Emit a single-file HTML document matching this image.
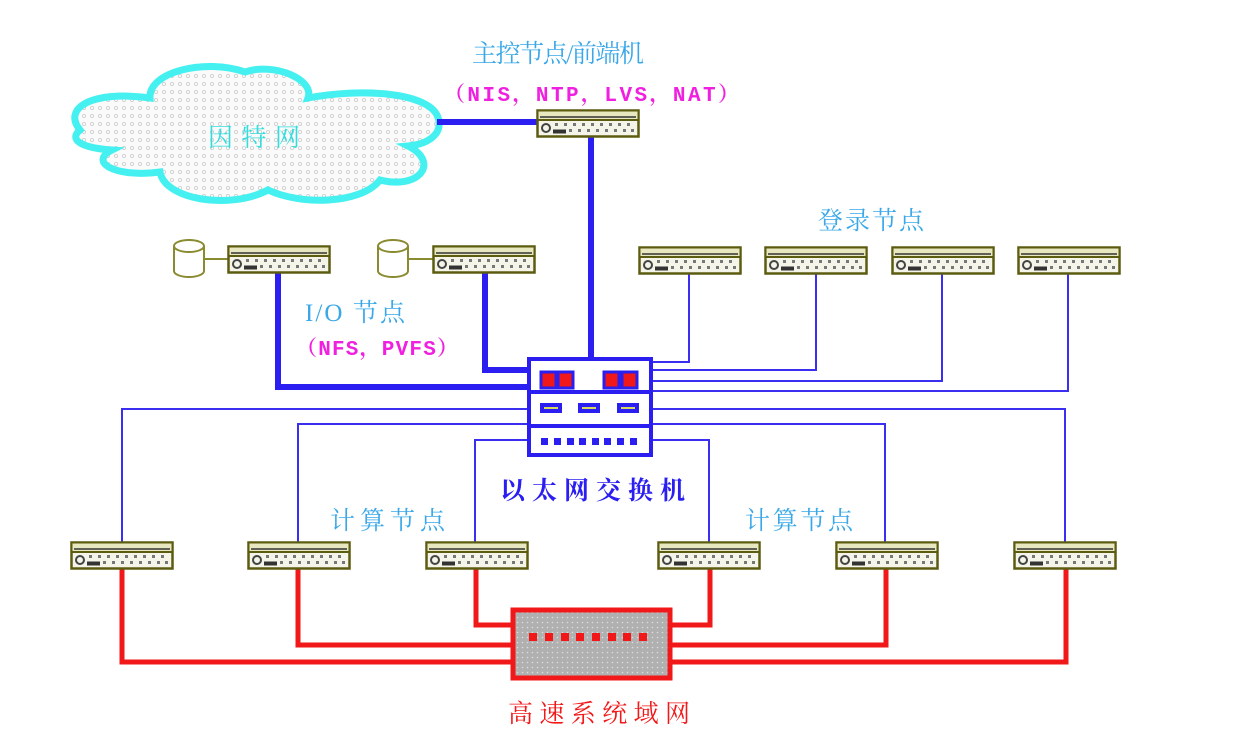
<!DOCTYPE html>
<html><head><meta charset="utf-8"><style>
body{margin:0;background:#fff;width:1237px;height:745px;overflow:hidden}
svg text{font-family:"Liberation Serif","Noto Serif CJK SC",serif;font-size:25px}
svg text.m{font-family:"Liberation Mono","Noto Serif CJK SC",monospace;font-size:21px;font-weight:bold}
</style></head><body>
<svg width="1237" height="745" viewBox="0 0 1237 745" xmlns="http://www.w3.org/2000/svg">
<defs>
<pattern id="dots" width="8" height="8" patternUnits="userSpaceOnUse"><rect width="8" height="8" fill="#fafafa"/><circle cx="4" cy="4" r="1.6" fill="none" stroke="#ccc" stroke-width="0.8"/></pattern>
<pattern id="gdots" width="5" height="5" patternUnits="userSpaceOnUse"><rect width="5" height="5" fill="#b0b0b0"/><circle cx="2.5" cy="2.5" r="0.8" fill="#ddd"/></pattern>
<g id="srv">
<rect x="0.5" y="0.5" width="101" height="26" fill="#f4f4e8" stroke="#5c5c10" stroke-width="2.5"/>
<rect x="1.5" y="1.5" width="99" height="8" fill="#e8e8c0"/>
<line x1="3" y1="7" x2="99" y2="7" stroke="#333" stroke-width="1.5"/>
<line x1="1" y1="10" x2="101" y2="10" stroke="#5c5c10" stroke-width="2"/>
<circle cx="9" cy="18" r="4" fill="none" stroke="#444" stroke-width="2"/>
<rect x="16" y="19.5" width="13" height="4" fill="#333"/>
<g fill="#777"><rect x="18" y="13" width="3" height="3"/><rect x="27" y="13" width="3" height="3"/><rect x="36" y="13" width="3" height="3"/><rect x="45" y="13" width="3" height="3"/><rect x="54" y="13" width="3" height="3"/><rect x="63" y="13" width="3" height="3"/><rect x="72" y="13" width="3" height="3"/><rect x="81" y="13" width="3" height="3"/><rect x="90" y="13" width="3" height="3"/>
<rect x="32" y="19" width="3" height="3"/><rect x="41" y="19" width="3" height="3"/><rect x="50" y="19" width="3" height="3"/><rect x="59" y="19" width="3" height="3"/><rect x="68" y="19" width="3" height="3"/><rect x="77" y="19" width="3" height="3"/><rect x="86" y="19" width="3" height="3"/><rect x="94" y="19" width="3" height="3"/></g>
</g>
<g id="db">
<path d="M0 7 V32 A15 6 0 0 0 30 32 V7" fill="#fff" stroke="#8a8a30" stroke-width="2"/>
<ellipse cx="15" cy="7" rx="15" ry="6" fill="#fff" stroke="#8a8a30" stroke-width="2"/>
</g>
</defs>

<path d="M80 130 C62 108 92 90 150 98 C148 72 205 58 245 72 C275 62 315 80 308 98 C360 88 425 92 437 115 C445 132 430 144 408 146 C440 162 420 190 380 180 C360 205 300 205 268 190 C230 210 165 200 160 172 C115 178 88 162 112 150 C82 148 68 140 80 130 Z" fill="url(#dots)" stroke="#44f0f0" stroke-width="7"/>
<text x="208" y="146" fill="#33dddd" font-size="30" textLength="92">因特网</text>

<g stroke="#2a1ef0" fill="none">
<line x1="437" y1="122" x2="540" y2="122" stroke-width="6"/>
<line x1="591" y1="137" x2="591" y2="360" stroke-width="6"/>
<polyline points="278,272 278,387 530,387" stroke-width="6"/>
<polyline points="485,272 485,370 530,370" stroke-width="6"/>
</g>
<g stroke="#3a2ef0" fill="none" stroke-width="2">
<polyline points="689,274 689,362 652,362"/>
<polyline points="816,274 816,370 652,370"/>
<polyline points="942,274 942,381 652,381"/>
<polyline points="1068,274 1068,391 652,391"/>
<polyline points="122,542 122,409 527,409"/>
<polyline points="298,542 298,424 527,424"/>
<polyline points="475,542 475,440 527,440"/>
<polyline points="709,542 709,440 652,440"/>
<polyline points="885,542 885,424 652,424"/>
<polyline points="1065,542 1065,409 652,409"/>
</g>
<g stroke="#f01818" fill="none" stroke-width="5">
<polyline points="122,569 122,662 511,662"/>
<polyline points="298,569 298,645 511,645"/>
<polyline points="476,569 476,625 511,625"/>
<polyline points="710,569 710,625 672,625"/>
<polyline points="886,569 886,645 672,645"/>
<polyline points="1066,569 1066,662 672,662"/>
</g>

<rect x="529" y="359" width="122" height="96" fill="#fff" stroke="#2a1ef0" stroke-width="4"/>
<line x1="529" y1="392" x2="651" y2="392" stroke="#2a1ef0" stroke-width="4"/>
<line x1="529" y1="426" x2="651" y2="426" stroke="#2a1ef0" stroke-width="4"/>
<g fill="#f01818" stroke="#2a1ef0" stroke-width="3"><rect x="541" y="372" width="15" height="16"/><rect x="558" y="372" width="15" height="16"/><rect x="604" y="372" width="15" height="16"/><rect x="622" y="372" width="15" height="16"/></g>
<g fill="#2a1ef0"><rect x="540" y="403" width="22" height="10"/><rect x="578" y="403" width="22" height="10"/><rect x="617" y="403" width="22" height="10"/></g>
<g fill="#d8d860"><rect x="544" y="407" width="14" height="2"/><rect x="582" y="407" width="14" height="2"/><rect x="621" y="407" width="14" height="2"/></g>
<g fill="#2a1ef0"><rect x="541" y="438" width="7" height="7"/><rect x="554" y="438" width="7" height="7"/><rect x="567" y="438" width="7" height="7"/><rect x="579" y="438" width="7" height="7"/><rect x="592" y="438" width="7" height="7"/><rect x="604" y="438" width="7" height="7"/><rect x="617" y="438" width="7" height="7"/><rect x="630" y="438" width="7" height="7"/></g>

<rect x="513" y="610" width="157" height="68" fill="url(#gdots)" stroke="#f01818" stroke-width="5"/>
<g fill="#f01818"><rect x="529" y="633" width="8" height="8"/><rect x="545" y="633" width="8" height="8"/><rect x="561" y="633" width="8" height="8"/><rect x="576" y="633" width="8" height="8"/><rect x="592" y="633" width="8" height="8"/><rect x="608" y="633" width="8" height="8"/><rect x="623" y="633" width="8" height="8"/><rect x="639" y="633" width="8" height="8"/></g>

<use href="#srv" x="537" y="110"/>
<use href="#db" x="174" y="239"/><line x1="204" y1="259" x2="228" y2="259" stroke="#8a8a30" stroke-width="2"/>
<use href="#srv" x="228" y="246"/>
<use href="#db" x="378" y="239"/><line x1="408" y1="259" x2="433" y2="259" stroke="#8a8a30" stroke-width="2"/>
<use href="#srv" x="433" y="246"/>
<use href="#srv" x="639" y="247"/>
<use href="#srv" x="765" y="247"/>
<use href="#srv" x="892" y="247"/>
<use href="#srv" x="1018" y="247"/>
<use href="#srv" x="71" y="542"/>
<use href="#srv" x="248" y="542"/>
<use href="#srv" x="426" y="542"/>
<use href="#srv" x="658" y="542"/>
<use href="#srv" x="836" y="542"/>
<use href="#srv" x="1014" y="542"/>

<text x="472" y="62" fill="#3aa8e8" textLength="172">主控节点/前端机</text>
<text x="444" y="101" class="m" fill="#f020e0" textLength="295">（NIS，NTP，LVS，NAT）</text>
<text x="818" y="229" fill="#3aa8e8" textLength="106">登录节点</text>
<text x="305" y="321" fill="#3aa8e8" textLength="100">I/O 节点</text>
<text x="296" y="355" class="m" fill="#f020e0" textLength="162">（NFS，PVFS）</text>
<text x="500" y="499" fill="#2a1ef0" font-weight="bold" font-size="26" textLength="185">以太网交换机</text>
<text x="330" y="529" fill="#3aa8e8" textLength="115">计算节点</text>
<text x="745" y="529" fill="#3aa8e8" textLength="108">计算节点</text>
<text x="508" y="722" fill="#f01818" font-size="27" textLength="182">高速系统域网</text>
</svg>
</body></html>
